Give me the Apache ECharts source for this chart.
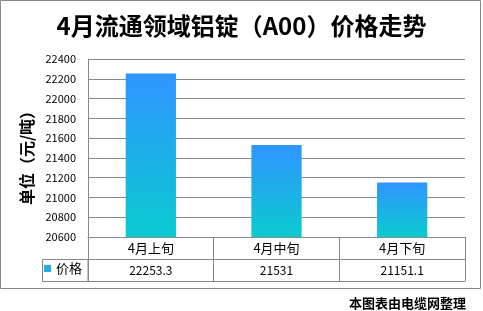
<!DOCTYPE html>
<html><head><meta charset="utf-8">
<script src="https://cdn.jsdelivr.net/npm/echarts@6/dist/echarts.min.js"></script>
<style>html,body{margin:0;padding:0;background:#fff}#c{width:483px;height:311px}</style>
</head><body><div id="c"></div>
<script>
var categories = ['4月上旬', '4月中旬', '4月下旬'];
var values = [22253.3, 21531, 21151.1];
var valueLabels = ['22253.3', '21531', '21151.1'];
var seriesName = '价格';
var yMin = 20600, yMax = 22400, yStep = 200;

var FONT = '"Noto Sans CJK SC", "Noto Sans", sans-serif';
var GRAY = '#888888';
var chart = echarts.init(document.getElementById('c'));
chart.setOption({
  animation: false,
  textStyle: {fontFamily: FONT},
  title: [
    {text: '4月流通领域铝锭（A00）价格走势', left: 'center', top: 9,
     textStyle: {fontSize: 24, fontWeight: 'bold', color: '#000', fontFamily: FONT}},
    {text: '本图表由电缆网整理', right: 12, top: 292,
     textStyle: {fontSize: 13, fontWeight: 'bold', color: '#000', fontFamily: FONT}}
  ],
  legend: {
    left: 42, top: 262, itemWidth: 7, itemHeight: 7, icon: 'rect', itemGap: 4,
    data: [{name: seriesName, itemStyle: {color: '#25A9E8'}}],
    textStyle: {fontSize: 13, color: '#000', fontFamily: FONT}, padding: [0, 0, 0, 2]
  },
  grid: {left: 88, right: 18, top: 59, bottom: 74, containLabel: false},
  xAxis: [
    {type: 'category', data: categories, position: 'bottom',
     axisLine: {show: true, lineStyle: {color: GRAY, width: 1}},
     axisTick: {show: true, length: 44, lineStyle: {color: GRAY}},
     axisLabel: {fontSize: 13, color: '#000', margin: 5, fontFamily: FONT}},
    {type: 'category', data: valueLabels, position: 'bottom', offset: 22,
     axisLine: {show: true, lineStyle: {color: GRAY, width: 1}},
     axisTick: {show: false},
     axisLabel: {fontSize: 12, color: '#000', margin: 5, fontFamily: FONT}},
    {type: 'category', data: categories, position: 'bottom', offset: 44,
     axisLine: {show: true, lineStyle: {color: GRAY, width: 1}},
     axisTick: {show: false}, axisLabel: {show: false}}
  ],
  yAxis: {
    type: 'value', min: yMin, max: yMax, interval: yStep,
    name: '单位（元/吨）', nameLocation: 'middle', nameGap: 50, nameRotate: 90,
    nameTextStyle: {fontSize: 16, fontWeight: 'bold', color: '#000', fontFamily: FONT, padding: [0, 0, 0, -12]},
    axisLine: {show: true, lineStyle: {color: GRAY, width: 1}},
    axisTick: {show: false},
    axisLabel: {fontSize: 11, color: '#000', margin: 12, fontFamily: FONT,
                formatter: function (v) { return String(v); }},
    splitLine: {show: true, lineStyle: {color: GRAY, width: 1}}
  },
  series: [{
    name: seriesName, type: 'bar', data: values, xAxisIndex: 0, barWidth: '40%',
    itemStyle: {color: new echarts.graphic.LinearGradient(0, 0, 0, 1, [
      {offset: 0, color: '#2F95FF'}, {offset: 1, color: '#0ACBCF'}])}
  }],
  graphic: [
    {type: 'rect', shape: {x: 0.5, y: 0.5, width: 480, height: 288},
     style: {fill: null, stroke: GRAY, lineWidth: 1}, silent: true},
    {type: 'rect', shape: {x: 42.5, y: 259.5, width: 45.5, height: 22},
     style: {fill: null, stroke: GRAY, lineWidth: 1}, silent: true}
  ]
});
</script></body></html>
